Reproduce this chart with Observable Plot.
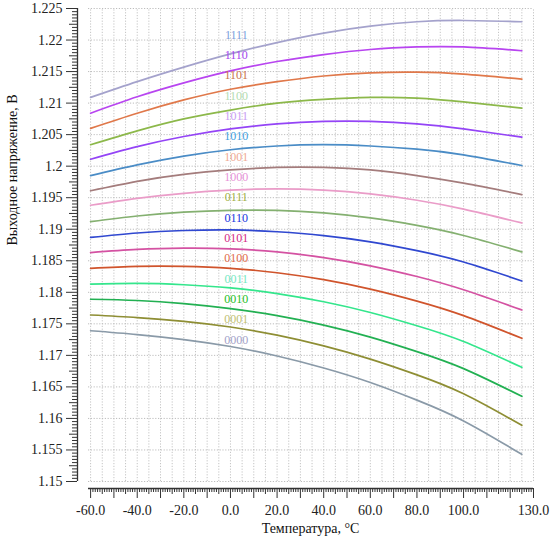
<!DOCTYPE html>
<html>
<head>
<meta charset="utf-8">
<script src="https://cdn.jsdelivr.net/npm/d3@7"></script>
<script src="https://cdn.jsdelivr.net/npm/@observablehq/plot@0.6"></script>
<style>
  html, body { margin: 0; padding: 0; background: #fff; }
  #chart svg { display: block; }
  #chart svg text { font-family: "Liberation Serif", "Times New Roman", serif; }
</style>
</head>
<body>
<div id="chart"></div>
<script>
// Temperatures (°C) at which the curves are read
const temps = [-60, -40, -20, 0, 20, 40, 60, 80, 100, 125];

// Output voltage (V) per trim code
const v0000 = [1.1739, 1.1733, 1.1725, 1.1714, 1.1699, 1.1680, 1.1657, 1.1629, 1.1596, 1.1543];
const v0001 = [1.1764, 1.1760, 1.1754, 1.1745, 1.1732, 1.1715, 1.1694, 1.1669, 1.1639, 1.1589];
const v0010 = [1.1789, 1.1787, 1.1782, 1.1774, 1.1763, 1.1748, 1.1729, 1.1706, 1.1679, 1.1635];
const v0011 = [1.1813, 1.1814, 1.1812, 1.1807, 1.1798, 1.1785, 1.1768, 1.1747, 1.1722, 1.1681];
const v0100 = [1.1838, 1.1841, 1.1841, 1.1838, 1.1831, 1.1820, 1.1805, 1.1786, 1.1763, 1.1727];
const v0101 = [1.1863, 1.1868, 1.1870, 1.1869, 1.1864, 1.1855, 1.1842, 1.1825, 1.1804, 1.1772];
const v0110 = [1.1887, 1.1894, 1.1898, 1.1899, 1.1896, 1.1890, 1.1880, 1.1866, 1.1848, 1.1818];
const v0111 = [1.1912, 1.1921, 1.1927, 1.1930, 1.1930, 1.1926, 1.1918, 1.1906, 1.1890, 1.1864];
const v1000 = [1.1938, 1.1949, 1.1957, 1.1962, 1.1964, 1.1962, 1.1956, 1.1946, 1.1932, 1.1910];
const v1001 = [1.1961, 1.1976, 1.1987, 1.1994, 1.1998, 1.1998, 1.1994, 1.1985, 1.1973, 1.1955];
const v1010 = [1.1985, 1.2002, 1.2016, 1.2026, 1.2032, 1.2034, 1.2032, 1.2027, 1.2018, 1.2001];
const v1011 = [1.2011, 1.2031, 1.2047, 1.2059, 1.2067, 1.2071, 1.2071, 1.2067, 1.2059, 1.2046];
const v1100 = [1.2034, 1.2056, 1.2075, 1.2089, 1.2100, 1.2106, 1.2109, 1.2108, 1.2102, 1.2092];
const v1101 = [1.2060, 1.2084, 1.2105, 1.2122, 1.2134, 1.2143, 1.2148, 1.2149, 1.2146, 1.2138];
const v1110 = [1.2084, 1.2110, 1.2132, 1.2151, 1.2166, 1.2177, 1.2185, 1.2189, 1.2189, 1.2183];
const v1111 = [1.2109, 1.2134, 1.2157, 1.2178, 1.2196, 1.2211, 1.2222, 1.2229, 1.2231, 1.2229];

// Codes listed top to bottom
const codes = ["1111","1110","1101","1100","1011","1010","1001","1000",
               "0111","0110","0101","0100","0011","0010","0001","0000"];

// Tick labels
const xTickLabels = [-60, -40, -20, 0, 20, 40, 60, 80, 100, 130];
const yTickLabels = [1.15, 1.155, 1.16, 1.165, 1.17, 1.175, 1.18, 1.185, 1.19, 1.195,
                     1.2, 1.205, 1.21, 1.215, 1.22, 1.225];

// Styles
const lineColors = {
  "1111": "#a4a2cc", "1110": "#b845f0", "1101": "#e0784a", "1100": "#8cb84a",
  "1011": "#9444f6", "1010": "#4a8cc6", "1001": "#a47c7c", "1000": "#ea9cc8",
  "0111": "#84b070", "0110": "#3048d0", "0101": "#d452a2", "0100": "#d0542c",
  "0011": "#34e68c", "0010": "#22b052", "0001": "#8e8e34", "0000": "#8a9aa8"
};
const labelColors = {
  "1111": "#7ba0dc", "1110": "#a444ee", "1101": "#c8744c", "1100": "#b4dcb0",
  "1011": "#c89cf4", "1010": "#40a0e0", "1001": "#f0aa92", "1000": "#e892d8",
  "0111": "#a0b044", "0110": "#1634e0", "0101": "#d42884", "0100": "#e26a4a",
  "0011": "#74e8c2", "0010": "#24c024", "0001": "#c0c072", "0000": "#a2a2c8"
};

const seriesByCode = {
  "0000": v0000, "0001": v0001, "0010": v0010, "0011": v0011,
  "0100": v0100, "0101": v0101, "0110": v0110, "0111": v0111,
  "1000": v1000, "1001": v1001, "1010": v1010, "1011": v1011,
  "1100": v1100, "1101": v1101, "1110": v1110, "1111": v1111
};

const rows = codes.flatMap(code => seriesByCode[code].map((v, i) => ({code, t: temps[i], v})));

const xMin = -60.9, xMax = 130;
const yMin = 1.15, yMax = 1.225;

const xMajor = d3.range(-60, 131, 10);
const xMedium = d3.range(-60, 131, 5).filter(d => d % 10 !== 0);
const xMinor = d3.range(-60, 131, 1).filter(d => d % 5 !== 0);
const yMajor = yTickLabels;
const yMedium = d3.range(0, 15).map(i => +(1.1525 + i * 0.005).toFixed(4));
const yMinor = d3.range(0, 151).map(i => +(1.15 + i * 0.0005).toFixed(4))
  .filter(d => Math.round(d * 10000) % 25 !== 0);
const xLabelSet = new Set(xTickLabels);

// Label column layout (code-side, not data)
const labelRows = codes.map((code, i) => ({code, x: 2.5, y: 1.22083 - i * 0.003224}));

const tickColor = "#333";
const serif = "'Liberation Serif', 'Times New Roman', serif";

const chart = Plot.plot({
  width: 554,
  height: 546,
  marginLeft: 77,
  marginRight: 21,
  marginTop: 8,
  marginBottom: 58,
  style: {fontFamily: serif, fontSize: "14px", color: "#222", background: "#fff"},
  x: {domain: [xMin, xMax], insetLeft: 11},
  y: {domain: [yMin, yMax], insetBottom: 7},
  marks: [
    // grid
    Plot.ruleX(d3.range(-60, 131, 5), {y1: yMin, y2: yMax, stroke: "#c4c4c4", strokeDasharray: "1.2,1.6", strokeWidth: 1}),
    Plot.ruleY(yMajor, {x1: xMin, x2: xMax, stroke: "#bdbdbd", strokeDasharray: "1.2,1.6", strokeWidth: 1}),
    // spines
    Plot.ruleX([xMin], {y1: yMin, y2: yMax, dx: -11, stroke: tickColor, strokeWidth: 1.3}),
    Plot.ruleY([yMin], {x1: xMin, x2: xMax, dy: 7, stroke: tickColor, strokeWidth: 1.3}),
    // y axis ticks
    Plot.axisY(yMinor, {anchor: "left", tickSize: 5, fill: "none", label: null, stroke: tickColor}),
    Plot.axisY(yMedium, {anchor: "left", tickSize: 8, fill: "none", label: null, stroke: tickColor}),
    Plot.axisY(yMajor, {anchor: "left", tickSize: 11, tickPadding: 4, tickFormat: d => String(d), label: null, stroke: tickColor, fill: "#222", fontSize: 14, fontFamily: serif}),
    // x axis ticks
    Plot.axisX(xMinor, {anchor: "bottom", tickSize: 4, fill: "none", label: null, stroke: tickColor}),
    Plot.axisX(xMedium, {anchor: "bottom", tickSize: 6, fill: "none", label: null, stroke: tickColor}),
    Plot.axisX(xMajor.filter(d => !xLabelSet.has(d)), {anchor: "bottom", tickSize: 10, fill: "none", label: null, stroke: tickColor}),
    Plot.axisX(xTickLabels, {anchor: "bottom", tickSize: 10, tickPadding: 7, tickFormat: d => d.toFixed(1), label: null, stroke: tickColor, fill: "#222", fontSize: 14, fontFamily: serif}),
    // curves
    Plot.line(rows, {x: "t", y: "v", z: "code", stroke: d => lineColors[d.code], strokeWidth: 1.7, curve: "natural"}),
    // curve labels
    Plot.text(labelRows, {x: "x", y: "y", text: "code", fill: d => labelColors[d.code], fontSize: 12, fontFamily: serif}),
    // axis titles
    Plot.text(["Выходное напряжение, В"], {frameAnchor: "left", rotate: -90, dx: -65, dy: -3, fontSize: 14, fill: "#111", fontFamily: serif}),
    Plot.text(["Температура, °C"], {frameAnchor: "bottom", dx: 5, dy: 44, fontSize: 14, fill: "#111", fontFamily: serif})
  ]
});

document.getElementById("chart").appendChild(chart);
</script>
</body>
</html>
